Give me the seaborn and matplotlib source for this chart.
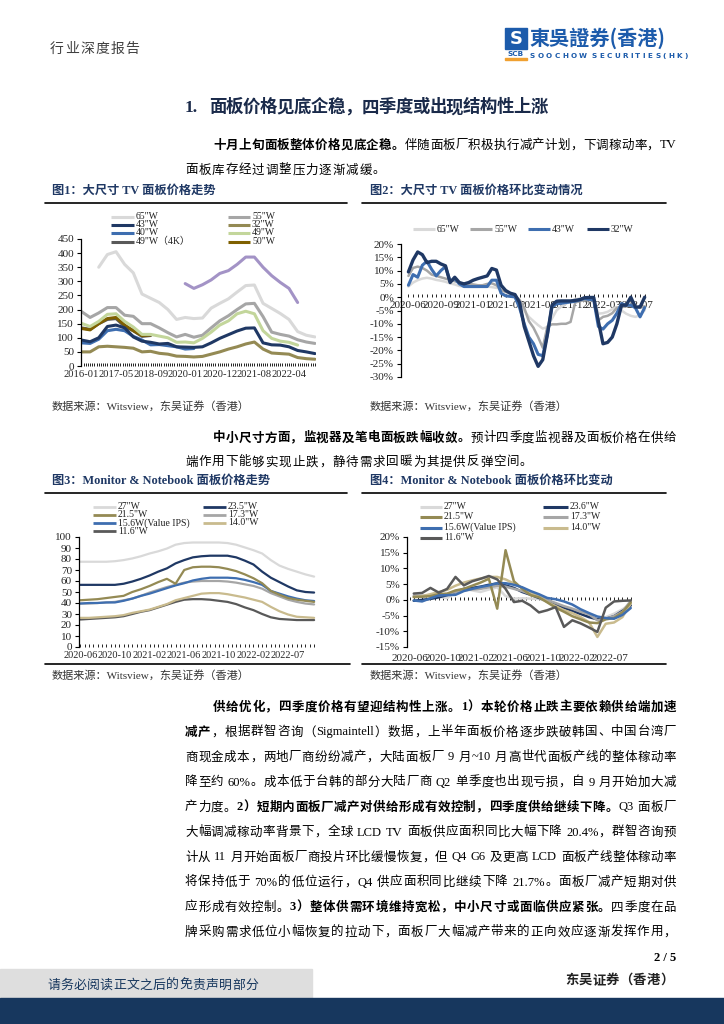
import numpy as np
import pandas as pd
import matplotlib
matplotlib.use("Agg")
import matplotlib.pyplot as plt
import seaborn as sns
from matplotlib.lines import Line2D
from matplotlib.patches import Rectangle

nan = np.nan

# ---------------- data ----------------
# fig 1: large-size TV panel prices (USD), one reading every 4 periods
tv_pos = np.arange(0, 109, 4)
tv_tick_pos = [0, 16, 32, 48, 64, 80, 96]
tv_ticks = ["2016-01", "2017-05", "2018-09", "2020-01", "2020-12", "2021-08", "2022-04"]
tv65 = [nan, nan, 350, 395, 405, 360, 330, 255, 240, 225, 200, 165, 172, 168, 170, 205, 222, 238, 262, 285, 287, 222, 204, 186, 165, 122, 109, 103]
tv55 = [193, 172, 188, 207, 207, 180, 176, 150, 150, 135, 118, 103, 112, 102, 109, 135, 160, 178, 200, 220, 222, 175, 120, 112, 106, 93, 85, 80]
tv43 = [92, 86, 100, 140, 145, 135, 103, 88, 84, 78, 80, 68, 67, 66, 68, 82, 98, 111, 124, 134, 135, 82, 75, 74, 68, 55, 50, 44]
tv32 = [50, 50, 68, 70, 68, 66, 63, 50, 52, 45, 42, 35, 34, 32, 34, 42, 50, 60, 68, 78, 85, 60, 46, 44, 42, 30, 26, 24]
tv40 = [82, 80, 95, 125, 130, 125, 105, 92, 75, 76, 72, 68, 60, 62] + [nan] * 14
tv49 = [151, 140, 158, 183, 185, 158, 138, 112, 112, 106, 100, 84, 85, 82, 98, 120, 145, 160, 185, 194, 185, 125, 98, 88, 84, 74, nan, nan]
tv49k = [135, 130, 150, 165, 168, 140, 125, 105, 108] + [nan] * 19
tv50 = [133, 128, 150, 168, 172, 145, 125, 108, 110] + [nan] * 19
tv_other = [nan] * 12 + [292, 275, 288, 305, 328, 338, 360, 386, 386, 350, 320, 296, 275, 225] + [nan, nan]

# fig 2: TV panel price change (%)
mom_pos = np.arange(0, 52)
mom_tick_pos = [0, 7, 14, 21, 28, 35, 42, 49]
mom_ticks = ["2020-06", "2020-09", "2021-01", "2021-05", "2021-08", "2021-12", "2022-03", "2022-07"]
c65 = [4, 5.5, 6.4, 7, 7.3, 7, 6.5, 6.2, 5.8, 5.2, 4.8, 4.2, 4, 3.9, 3.9, 3.9, 4, 4, 3.8, 3.5, 3.3, 2.5, 1.4, 0, -2.4, -5,
       -7.4, -9, -10.5, -11.8, -11.2, -8, -4.9, -3.5, -2.4, -1.5, -0.8, -0.5, -0.3, -0.3, -0.5, -6.2, -6, -5.5, -4.5, -3.7,
       -5, -6.2, -7, -7.4, -6.8, -4.9]
c55 = [8, 11, 11.5, 11, 10, 8.5, 8, 7.5, 7, 6.5, 6, 5.5, 5, 5, 4.8, 4.5, 4.5, 5, 5.2, 4.5, 2.6, 2, 1.4, 0.5, -1, -4,
       -9, -11.5, -15, -19, -11, -10.2, -10.2, -10, -10, -9.3, -2, -1.5, -1.1, -1.1, -1.1, -8.7, -7.4, -7, -6, -4,
       -3.7, -3.5, -3, -3.5, -4, -3.4]
c43 = [4.5, 8.5, 7.5, 12, 13.5, 10.5, 8, 10, 11.5, 6, 7, 5, 4, 4, 4, 4, 4, 4, 6.4, 6.4, 1.5, 0.5, 0.3, 0.1, -4, -10,
       -15, -17.5, -21.5, -22, -14, -3.5, -2.5, -2.3, -2, -1.8, -1.5, -1, -0.5, -0.8, -1, -11, -12, -10, -8.7, -6,
       -2.4, -3, -3, -4, -7.4, -3.9]
c32 = [9.5, 14, 17, 16, 13, 13.5, 13.5, 12.5, 11.8, 5.5, 7.5, 5.5, 5, 5.5, 6.4, 7, 7.5, 8, 10.8, 10.2, 4.5, 2.5, 1.5, 1,
       -2, -11, -16.5, -22, -26, -23.5, -14, -3, -1.5, -1.4, -1.4, -1.4, -1.2, -0.9, -0.2, -0.1, -0.1, -9, -17.5, -17,
       -15, -10, -3, -3, 0, -3.7, -3.7, 0]

# fig 3: monitor & notebook panel prices (USD), one reading every 2 periods
mn_pos = np.arange(0, 55, 2)
mn_tick_pos = [0, 8, 16, 24, 32, 40, 48]
mn_ticks = ["2020-06", "2020-10", "2021-02", "2021-06", "2021-10", "2022-02", "2022-07"]
m27 = [77.5, 77.5, 77.5, 77.5, 78, 79, 80.5, 82.5, 85, 87, 89.5, 93, 94.5, 95, 95, 95, 95, 94.5, 93, 90.5, 88, 85, 79, 74, 71, 68.5, 66, 64]
m235 = [56.5, 56.5, 56.5, 56.5, 56.5, 57.5, 59.5, 62, 65, 68.5, 71.5, 76, 79, 81.5, 82.5, 83, 83, 83, 81.5, 78.5, 75, 68.5, 63, 59, 55, 51.5, 50, 49.5]
m215 = [42.5, 43, 43.5, 44.5, 45.5, 46.5, 50, 52.5, 55.5, 59, 62, 57.5, 70, 72.5, 73, 73, 72.5, 71, 69, 66, 62.5, 58, 51, 47.5, 44.5, 43, 42, 41]
m173 = [39.5, 39.5, 40, 40.5, 41, 42.5, 44, 46.5, 49.5, 52, 54.5, 56.5, 58.5, 59.5, 60, 60, 60, 59.5, 58.5, 57, 55.5, 53, 49, 46, 43, 41, 39.5, 38.7]
m156 = [39.5, 40, 40, 40.5, 40.5, 42, 44, 46.5, 48.5, 51, 53.5, 56, 58, 60.5, 62, 63, 63, 63, 62.5, 61, 59, 56.5, 51, 48.5, 46, 44, 42.5, 41.8]
m140 = [26.5, 26.5, 27, 27.5, 28, 29, 31, 32.5, 34, 36.5, 39, 42.5, 44.5, 46.5, 48.5, 49, 49, 48, 46.5, 45, 43, 41, 36.5, 32.5, 29.5, 27.5, 27, 26.5]
m116 = [25, 25.5, 26, 26.5, 27, 28, 30, 32, 33.5, 36, 38.5, 41, 43, 43.5, 43.5, 43, 42, 41, 39, 36, 33.5, 30, 27, 25.5, 25, 24.5, 24.5, 24.5]

# fig 4: monitor & notebook panel price change (%), one reading every 2 periods
mc_pos = np.arange(1, 54, 2)
p27 = [1.4, 1.4, 1.3, 1, 0.5, 2.5, 3.5, 3, 2.5, 3.3, 4, 1.2, 0.4, 0.5, 0.4, 0.3, -0.5, -1.3, -2.5, -3, -3.3, -4.8, -6, -5.5, -4.4, -3, -1.2]
p236 = [-0.3, 0, 0.3, 0.8, 1.5, 2.5, 3.5, 3.8, 4.2, 4.8, 5.2, 4.6, 3.8, 2.5, 1.6, 0.6, -0.3, -1.5, -2.5, -3.5, -4.5, -5.5, -6.2, -6, -5.2, -3.5, -1.8]
p215 = [0.9, 1, 1.2, 1.8, 2, 3, 3.5, 4.5, 5.5, 6.7, -2.8, 15.8, 5.9, 3.5, 1.5, 0.8, -0.8, -2.5, -3.8, -5.2, -6.2, -7.2, -7.4, -6.2, -5.8, -4, -0.8]
p173 = [1.2, 1.2, 1.3, 1.4, 1.8, 2.5, 3, 3.3, 3.5, 4, 4.5, 4.2, 3.5, 2.8, 1.8, 1, 0, -1, -2, -2.8, -3.8, -4.6, -6.5, -6, -5.2, -3.8, -0.3]
p156 = [-0.2, -0.5, 0.5, 1.4, 1.5, 1.6, 2.8, 3.5, 4.1, 4.6, 5.3, 5.3, 4.8, 4, 2.8, 1.8, 0.6, 0.2, -0.5, -1.5, -3, -4.2, -5.3, -5.8, -6, -4.8, -2.6]
p140 = [0.9, 1.2, 1.8, 2.5, 3.2, 4.5, 5.5, 6.2, 6.8, 7.3, 7.3, 6.5, 5.2, 3.8, 2.5, 1, -0.7, -2, -3.3, -4.2, -5.5, -7.1, -11.8, -7.6, -7.2, -5.5, -1.2]
p116 = [2, 2.2, 3.8, 2.3, 3.5, 7.3, 4.6, 5.9, 6.7, 7.6, 6.5, 3.5, -0.7, -0.3, -1.8, -4, -3.3, -2.3, -8.6, -6.5, -7.5, -8.8, -10.2, -2.5, -0.5, -0.3, -0.2]

# colours
LIGHT, GRAY, NAVY, OLIVE = "#d9d9d9", "#a6a6a6", "#1f3864", "#948a54"
BLUE, GREEN, DGRAY, GOLD = "#3e6eb0", "#c3d69b", "#595959", "#7f6000"
PURPLE, TAN = "#a393c6", "#c9bb8e"

# ---------------- page ----------------
sns.set_theme(style="white")
plt.rcParams["font.family"] = ["Liberation Serif", "Noto Sans CJK SC"]
plt.rcParams["text.color"] = "black"

W, H = 724, 1024
fig = plt.figure(figsize=(7.24, 10.24), dpi=100)
renderer = fig.canvas.get_renderer()


def fx(px):
    return px / W


def fy(py):
    return 1 - py / H


def add_ax(l, t, r, b):
    return fig.add_axes([fx(l), fy(b), (r - l) / W, (b - t) / H])


def hline(x0, x1, y, lw=1.2, color="black"):
    fig.add_artist(Line2D([fx(x0), fx(x1)], [fy(y), fy(y)], color=color, lw=lw))


def put_line(segs, x0, y, x1=None, size=9.0, color="black", track=0.6, split=False, family=None):
    # lay a line out token by token so it can be justified like the printed page
    em = size * 100 / 72
    items = []
    extra = 0.0
    for text, bold in segs:
        buf = ""
        for ch in text:
            if ch == " ":
                if buf:
                    items.append((buf, bold, extra))
                    buf, extra = "", 0.0
                extra += em * 0.3
            elif ord(ch) < 128 and not split:
                buf += ch
            else:
                if buf:
                    items.append((buf, bold, extra))
                    buf, extra = "", 0.0
                items.append((ch, bold, extra))
                extra = 0.0
        if buf:
            items.append((buf, bold, extra))
            extra = 0.0
    arts, widths = [], []
    for t, b, e in items:
        kw = {} if family is None else {"family": family}
        a = fig.text(0, fy(y + 0.36 * em), t, fontsize=size, fontweight="bold" if b else "normal",
                     color=color, va="baseline", ha="left", **kw)
        if len(t) == 1 and ord(t) >= 128:
            w = em
        else:
            w = a.get_window_extent(renderer).width
        arts.append(a)
        widths.append(w)
    total = sum(widths) + sum(it[2] for it in items)
    gap = (x1 - x0 - total) / max(len(items) - 1, 1) if x1 is not None else track
    x = x0
    for a, w, (t, b, e) in zip(arts, widths, items):
        x += e
        if len(t) == 1 and ord(t) >= 128:
            if t == "（":
                a.set_ha("right")
                a.set_x(fx(x + w))
            elif t in "，。、；：）":
                a.set_x(fx(x))
            else:
                a.set_ha("center")
                a.set_x(fx(x + w / 2))
        else:
            a.set_x(fx(x))
        x += w + gap


def leg(x, y, color, label, lw=2.2, length=23):
    fig.add_artist(Line2D([fx(x), fx(x + length)], [fy(y), fy(y)], color=color, lw=lw, solid_capstyle="butt"))
    fig.text(fx(x + length + 2), fy(y), label, fontsize=7, va="center", ha="left", color="#222222")


def style(ax, xlim, ylim, yticks, ylabels, xtick_pos, xtick_labels, minor_stop, xsize=8):
    ax.set_facecolor("none")
    ax.set_xlim(*xlim)
    ax.set_ylim(*ylim)
    for s in ["top", "right", "bottom"]:
        ax.spines[s].set_visible(False)
    ax.spines["left"].set_color("black")
    ax.spines["left"].set_linewidth(0.9)
    ax.set_yticks(yticks)
    ax.set_yticklabels(ylabels)
    ax.set_xticks(xtick_pos)
    ax.set_xticklabels(xtick_labels)
    ax.set_xticks(np.arange(0, minor_stop), minor=True)
    ax.tick_params(axis="y", length=3, width=0.8, color="black", pad=2, labelsize=8, left=True)
    ax.tick_params(axis="x", which="both", length=2.5, width=0.6, color="black", direction="in",
                   labelsize=xsize, pad=3, bottom=True)
    ax.grid(False)
    ax.set_xlabel("")
    ax.set_ylabel("")


def draw(ax, x, series):
    for vals, color, lw in series:
        sns.lineplot(x=x, y=vals, ax=ax, color=color, linewidth=lw, errorbar=None)


# ---- header
put_line([("行业深度报告", False)], 50, 48, size=10, color="#404040", track=1.2)
fig.add_artist(Rectangle((fx(505), fy(49)), 22 / W, 21 / H, color="#1c5bab", transform=fig.transFigure))
fig.text(fx(516), fy(38.5), "S", fontsize=13, fontweight="bold", color="white", ha="center", va="center",
         family=["DejaVu Sans"])
fig.text(fx(516), fy(54.5), "SCB", fontsize=5.3, fontweight="bold", color="#1c5bab", ha="center", va="center",
         family=["DejaVu Sans"])
fig.add_artist(Rectangle((fx(505), fy(60)), 22 / W, 2 / H, color="#f0a030", transform=fig.transFigure))
fig.text(fx(529), fy(38), "東吳證券(香港)", fontsize=14.5, fontweight="bold", color="#1c5bab", ha="left",
         va="center", family=["Noto Sans CJK TC"])
put_line([("SOOCHOW SECURITIES(HK)", True)], 530, 55, x1=688, size=5.2, color="#1c5bab", split=True,
         family=["DejaVu Sans"])

# section heading
put_line([("1.", True)], 185, 106, size=12.5, color="#1a2a4a")
put_line([("面板价格见底企稳，四季度或出现结构性上涨", True)], 209, 106, x1=548, size=12.5, color="#1a2a4a")

# paragraph 1
put_line([("十月上旬面板整体价格见底企稳。", True), ("伴随面板厂积极执行减产计划，下调稼动率，TV", False)],
         213, 144, x1=676)
put_line([("面板库存经过调整压力逐渐减缓。", False)], 185, 169, track=0.9)

# ---- chart titles / rules
TCOL = "#1f3864"
fig.text(fx(52), fy(191), "图1：大尺寸 TV 面板价格走势", fontsize=8.8, fontweight="bold", color=TCOL, va="center")
fig.text(fx(370), fy(191), "图2：大尺寸 TV 面板价格环比变动情况", fontsize=8.8, fontweight="bold", color=TCOL, va="center")
hline(45, 347, 203)
hline(362, 666, 203)

# ---- chart 1
ax1 = add_ax(81, 239, 316, 366)
draw(ax1, tv_pos, [(tv49k, DGRAY, 2.2), (tv50, GOLD, 2.2), (tv40, BLUE, 2.2), (tv43, NAVY, 2.2),
                   (tv32, OLIVE, 2.2), (tv55, GRAY, 2.2), (tv65, LIGHT, 2.2), (tv49, GREEN, 2.2),
                   (tv_other, PURPLE, 2.2)])
style(ax1, (-0.2, 108.5), (0, 450), np.arange(0, 451, 50), [str(v) for v in range(0, 451, 50)],
      tv_tick_pos, tv_ticks, 109, xsize=7.6)

for i, (lab, col) in enumerate([('65"W', LIGHT), ('43"W', NAVY), ('40"W', BLUE), ('49"W（4K）', DGRAY)]):
    leg(111, [216.7, 224.5, 232.7, 241.5][i], col, lab)
for i, (lab, col) in enumerate([('55"W', GRAY), ('32"W', OLIVE), ('49"W', GREEN), ('50"W', GOLD)]):
    leg(228, [216.7, 224.5, 232.7, 241.5][i], col, lab, length=22)

# ---- chart 2
ax2 = add_ax(401, 244, 647, 377)
draw(ax2, mom_pos, [(c65, LIGHT, 1.8), (c55, GRAY, 1.8), (c43, BLUE, 2.2), (c32, NAVY, 2.4)])
style(ax2, (-1.6, 51.5), (-30, 20), np.arange(-30, 21, 5), [f"{v}%" for v in range(-30, 21, 5)],
      mom_tick_pos, mom_ticks, 52)
ax2.spines["bottom"].set_position(("data", 0))
for x, lab, col in [(413, '65"W', LIGHT), (470, '55"W', GRAY), (528, '43"W', BLUE), (587, '32"W', NAVY)]:
    leg(x, 229.3, col, lab, length=22)

# sources
SRC = "数据来源：Witsview，东吴证券（香港）"
fig.text(fx(52), fy(406), SRC, fontsize=8, color="#333333", va="center")
fig.text(fx(370), fy(406), SRC, fontsize=8, color="#333333", va="center")

# paragraph 2
put_line([("中小尺寸方面，监视器及笔电面板跌幅收敛。", True), ("预计四季度监视器及面板价格在供给", False)],
         213, 437, x1=676)
put_line([("端作用下能够实现止跌，静待需求回暖为其提供反弹空间。", False)], 185, 461, track=0.9)

fig.text(fx(52), fy(481), "图3：Monitor & Notebook 面板价格走势", fontsize=8.8, fontweight="bold", color=TCOL, va="center")
fig.text(fx(370), fy(481), "图4：Monitor & Notebook 面板价格环比变动", fontsize=8.8, fontweight="bold", color=TCOL, va="center")
hline(45, 347, 493)
hline(362, 666, 493)
hline(45, 350, 664)
hline(362, 666, 664)

# ---- chart 3
ax3 = add_ax(79, 537, 318, 647)
draw(ax3, mn_pos, [(m116, DGRAY, 1.6), (m140, TAN, 1.6), (m173, GRAY, 1.6), (m156, BLUE, 1.6),
                   (m215, OLIVE, 1.6), (m235, NAVY, 1.6), (m27, LIGHT, 1.6)])
style(ax3, (-0.3, 54.9), (0, 100), np.arange(0, 101, 10), [str(v) for v in range(0, 101, 10)],
      mn_tick_pos, mn_ticks, 55, xsize=7.5)
rows3 = [506.7, 514.5, 522.7, 531]
for i, (lab, col) in enumerate([('27"W', LIGHT), ('21.5"W', OLIVE), ('15.6W(Value IPS)', BLUE), ('11.6"W', DGRAY)]):
    leg(93, rows3[i], col, lab, lw=2)
for i, (lab, col) in enumerate([('23.5"W', NAVY), ('17.3"W', GRAY), ('14.0"W', TAN)]):
    leg(203, rows3[i], col, lab, lw=2)

# ---- chart 4
ax4 = add_ax(407, 537, 632, 647)
draw(ax4, mc_pos, [(p27, LIGHT, 1.8), (p236, NAVY, 1.8), (p173, GRAY, 1.8), (p140, TAN, 1.8),
                   (p215, OLIVE, 1.8), (p156, BLUE, 1.8), (p116, DGRAY, 1.8)])
style(ax4, (-0.62, 53.3), (-15, 20), np.arange(-15, 21, 5), [f"{v}%" for v in range(-15, 21, 5)],
      mn_tick_pos, ["" for _ in mn_ticks], 54)
ax4.spines["bottom"].set_position(("data", 0))
axb = ax4.twiny()
axb.set_xlim(ax4.get_xlim())
axb.xaxis.set_ticks_position("bottom")
axb.xaxis.set_label_position("bottom")
for s in axb.spines.values():
    s.set_visible(False)
axb.set_xticks(mn_tick_pos)
axb.set_xticklabels(mn_ticks)
axb.tick_params(axis="x", length=0, labelsize=8, pad=5)
axb.grid(False)
rows4 = [506.7, 516.7, 527.5, 537.5]
for i, (lab, col) in enumerate([('27"W', LIGHT), ('21.5"W', OLIVE), ('15.6W(Value IPS)', BLUE), ('11.6"W', DGRAY)]):
    leg(420, rows4[i], col, lab, lw=2.2, length=22)
for i, (lab, col) in enumerate([('23.6"W', NAVY), ('17.3"W', GRAY), ('14.0"W', TAN)]):
    leg(543, rows4[i], col, lab, lw=2.2, length=25)

fig.text(fx(52), fy(675), SRC, fontsize=8, color="#333333", va="center")
fig.text(fx(370), fy(675), SRC, fontsize=8, color="#333333", va="center")

# ---- paragraph 3
p3 = [
    [("供给优化，四季度价格有望迎结构性上涨。1）本轮价格止跌主要依赖供给端加速", True)],
    [("减产", True), ("，根据群智咨询（Sigmaintell）数据，上半年面板价格逐步跌破韩国、中国台湾厂", False)],
    [("商现金成本，两地厂商纷纷减产，大陆面板厂 9 月~10 月高世代面板产线的整体稼动率", False)],
    [("降至约 60%。成本低于台韩的部分大陆厂商 Q2 单季度也出现亏损，自 9 月开始加大减", False)],
    [("产力度。", False), ("2）短期内面板厂减产对供给形成有效控制，四季度供给继续下降。", True), ("Q3 面板厂", False)],
    [("大幅调减稼动率背景下，全球 LCD TV 面板供应面积同比大幅下降 20.4%，群智咨询预", False)],
    [("计从 11 月开始面板厂商投片环比缓慢恢复，但 Q4 G6 及更高 LCD 面板产线整体稼动率", False)],
    [("将保持低于 70%的低位运行，Q4 供应面积同比继续下降 21.7%。面板厂减产短期对供", False)],
    [("应形成有效控制。", False), ("3）整体供需环境维持宽松，中小尺寸或面临供应紧张。", True), ("四季度在品", False)],
    [("牌采购需求低位小幅恢复的拉动下，面板厂大幅减产带来的正向效应逐渐发挥作用，", False)],
]
for i, segs in enumerate(p3):
    put_line(segs, 213 if i == 0 else 185, 706 + 25 * i, x1=676)

# ---- footer
fig.text(fx(676), fy(958), "2 / 5", fontsize=9, fontweight="bold", ha="right", va="center")
fig.add_artist(Rectangle((0, fy(998)), 312 / W, 29 / H, color="#dedede", transform=fig.transFigure))
fig.add_artist(Rectangle((0, 0), 1, 26 / H, color="#17375e", transform=fig.transFigure))
put_line([("请务必阅读正文之后的免责声明部分", False)], 47, 984, size=9.3, color="#17375e", track=0.3)
put_line([("东吴证券（香港）", True)], 565, 979, size=9.6, color="#222222", track=0.3)

fig.savefig("out.png", dpi=100)
